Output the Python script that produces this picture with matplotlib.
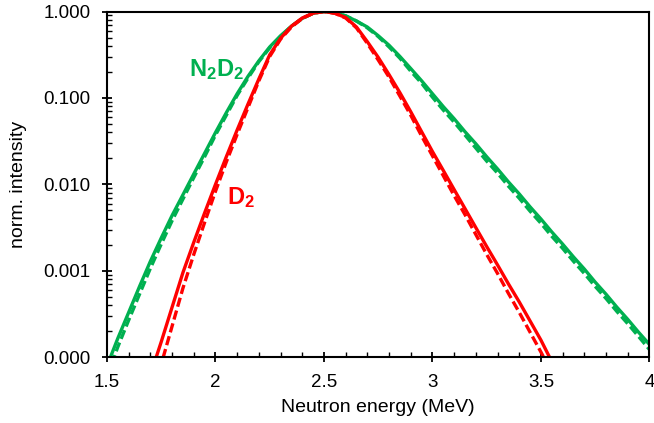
import matplotlib

matplotlib.use("Agg")
import matplotlib.pyplot as plt
from matplotlib import ticker

plt.rcParams["font.family"] = ["Liberation Sans", "DejaVu Sans"]
plt.rcParams["mathtext.fontset"] = "custom"
plt.rcParams["mathtext.rm"] = "Liberation Sans"
plt.rcParams["mathtext.bf"] = "Liberation Sans:bold"

GREEN = "#00b050"
RED = "#ff0000"

# N2D2 spectra, energies in MeV
n2d2_energy = [
    1.50, 1.55, 1.60, 1.65, 1.70, 1.75, 1.80, 1.85, 1.90, 1.95,
    2.00, 2.05, 2.10, 2.15, 2.20, 2.25, 2.30, 2.35, 2.40, 2.45,
    2.50, 2.55, 2.60, 2.65, 2.70, 2.75, 2.80, 2.85, 2.90, 2.95,
    3.00, 3.05, 3.10, 3.15, 3.20, 3.25, 3.30, 3.35, 3.40, 3.45,
    3.50, 3.55, 3.60, 3.65, 3.70, 3.75, 3.80, 3.85, 3.90, 3.95,
    4.00,
]
n2d2_solid = [
    7.94e-5, 1.66e-4, 3.31e-4, 6.61e-4, 1.29e-3, 2.40e-3, 4.37e-3, 7.59e-3, 0.0132, 0.0229,
    0.0398, 0.0676, 0.112, 0.178, 0.269, 0.389, 0.525, 0.676, 0.832, 0.955,
    1.000, 0.966, 0.891, 0.776, 0.661, 0.525, 0.407, 0.302, 0.219, 0.158,
    0.112, 0.0794, 0.0575, 0.0407, 0.0295, 0.0209, 0.0151, 0.0107, 7.76e-3, 5.50e-3,
    3.98e-3, 2.82e-3, 2.04e-3, 1.45e-3, 1.05e-3, 7.41e-4, 5.37e-4, 3.80e-4, 2.75e-4, 1.95e-4,
    1.41e-4,
]
n2d2_dashed = [
    6.03e-5, 1.32e-4, 2.69e-4, 5.37e-4, 1.07e-3, 2.04e-3, 3.80e-3, 6.76e-3, 0.0120, 0.0209,
    0.0372, 0.0631, 0.107, 0.170, 0.263, 0.380, 0.513, 0.676, 0.832, 0.955,
    1.000, 0.966, 0.891, 0.776, 0.646, 0.513, 0.389, 0.288, 0.204, 0.148,
    0.102, 0.0724, 0.0525, 0.0372, 0.0263, 0.0186, 0.0135, 9.55e-3, 6.92e-3, 4.90e-3,
    3.55e-3, 2.51e-3, 1.82e-3, 1.29e-3, 9.33e-4, 6.61e-4, 4.79e-4, 3.39e-4, 2.45e-4, 1.74e-4,
    1.23e-4,
]

# D2 spectra
d2_energy = [
    1.72, 1.75, 1.80, 1.85, 1.90, 1.95, 2.00, 2.05, 2.10, 2.15,
    2.20, 2.25, 2.30, 2.35, 2.40, 2.45, 2.50, 2.55, 2.60, 2.65,
    2.70, 2.75, 2.80, 2.85, 2.90, 2.95, 3.00, 3.05, 3.10, 3.15,
    3.20, 3.25, 3.30, 3.35, 3.40, 3.45, 3.50, 3.55,
]
d2_solid = [
    8.91e-5, 1.51e-4, 3.80e-4, 9.55e-4, 2.14e-3, 4.68e-3, 0.0100, 0.0209, 0.0427, 0.0851,
    0.166, 0.316, 0.490, 0.676, 0.841, 0.955, 1.000, 0.955, 0.851, 0.661,
    0.447, 0.295, 0.186, 0.115, 0.0692, 0.0407, 0.0240, 0.0145, 8.71e-3, 5.25e-3,
    3.16e-3, 1.91e-3, 1.17e-3, 7.08e-4, 4.37e-4, 2.63e-4, 1.58e-4, 8.91e-5,
]
d2_dashed = [
    5.0e-5, 8.32e-5, 2.29e-4, 6.31e-4, 1.55e-3, 3.63e-3, 8.32e-3, 0.0182, 0.0380, 0.0776,
    0.158, 0.302, 0.479, 0.661, 0.832, 0.955, 1.000, 0.955, 0.841, 0.646,
    0.427, 0.275, 0.174, 0.105, 0.0631, 0.0363, 0.0214, 0.0126, 7.41e-3, 4.47e-3,
    2.63e-3, 1.55e-3, 9.33e-4, 5.50e-4, 3.31e-4, 1.95e-4, 1.15e-4, 6.61e-5,
]

x_ticks = [1.5, 2.0, 2.5, 3.0, 3.5, 4.0]
y_ticks = [1e-4, 1e-3, 1e-2, 1e-1, 1.0]

fig = plt.figure(figsize=(6.54, 4.23), dpi=100)
ax = fig.add_axes([0.1636, 0.1553, 0.8294, 0.8175])

lw = 2.4
ax.plot(n2d2_energy, n2d2_dashed, color=GREEN, lw=lw, dashes=(2.8, 1.2))
ax.plot(n2d2_energy, n2d2_solid, color=GREEN, lw=lw)
ax.plot(d2_energy, d2_dashed, color=RED, lw=lw, dashes=(2.8, 1.2))
ax.plot(d2_energy, d2_solid, color=RED, lw=lw)

ax.text(1.88, 0.179, r"$\mathbf{N_2D_2}$", color=GREEN, fontsize=17,
        ha="left", va="baseline")
ax.text(2.053, 0.0059, r"$\mathbf{D_2}$", color=RED, fontsize=17,
        ha="left", va="baseline")

ax.set_yscale("log")
ax.set_xlim(1.5, 4.0)
ax.set_ylim(1e-4, 1.0)

ax.set_xticks(x_ticks)
ax.xaxis.set_major_formatter(ticker.FormatStrFormatter("%g"))
ax.xaxis.set_minor_locator(ticker.MultipleLocator(0.1))
ax.set_yticks(y_ticks)
ax.yaxis.set_major_formatter(ticker.FormatStrFormatter("%.3f"))
ax.yaxis.set_minor_locator(ticker.LogLocator(base=10, subs=range(2, 10)))
ax.yaxis.set_minor_formatter(ticker.NullFormatter())

ax.tick_params(which="major", direction="inout", length=7.5, width=1.3,
               labelsize=13.5, pad=8)
ax.tick_params(which="minor", direction="in", length=3.5, width=1.0)

for side in ["left", "bottom", "top", "right"]:
    ax.spines[side].set_linewidth(1.5)

ax.set_xlabel("Neutron energy (MeV)", fontsize=14)
ax.set_ylabel("norm. intensity", fontsize=14)
ax.xaxis.set_label_coords(0.5, -0.122)
ax.yaxis.set_label_coords(-0.148, 0.5)

fig.savefig("out.png", dpi=100, facecolor="white")
